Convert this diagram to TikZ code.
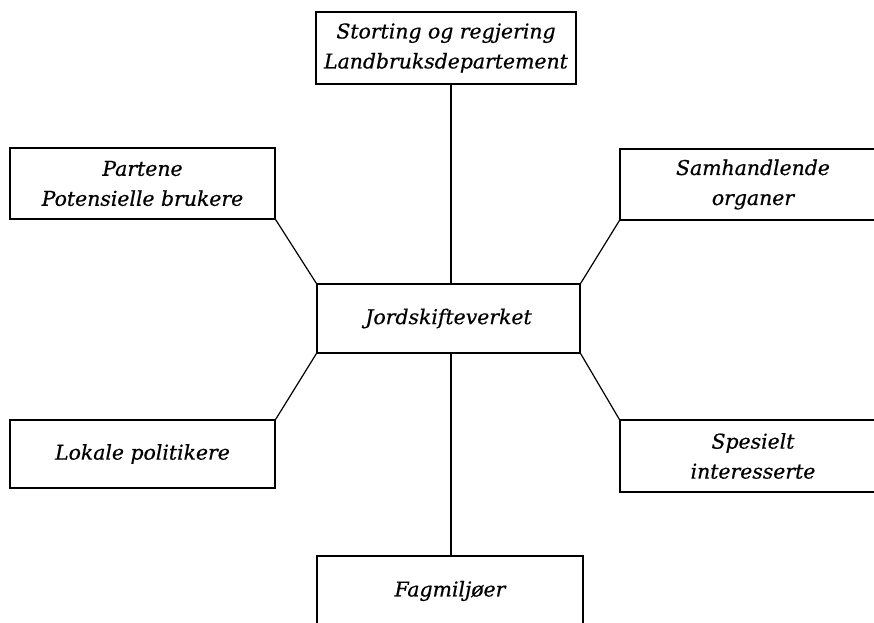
\documentclass[tikz,border=0pt]{standalone}
\usepackage{fontspec}
\setmainfont{DejaVu Serif}
\newfontfamily\labfont{DejaVu Serif}[ItalicFeatures={FakeBold=0.6}]
\begin{document}
\begin{tikzpicture}[x=0.75pt,y=-0.75pt,
  box/.style={draw,line width=1pt,rectangle,inner sep=0pt,align=center,
    font=\labfont\itshape\fontsize{15.3}{22.5}\selectfont},
  link/.style={line width=0.9pt}]
\useasboundingbox (0,0) rectangle (874,622);
\clip (0,0) rectangle (874,622);
\node[box,minimum width=260*0.75pt,minimum height=72*0.75pt] (top) at (446,48) {Storting og regjering\\Landbruksdepartement};
\node[box,minimum width=265*0.75pt,minimum height=71*0.75pt] (part) at (142.5,183.5) {Partene\\Potensielle brukere};
\node[box,minimum width=266*0.75pt,minimum height=71*0.75pt] (sam) at (753,184.5) {Samhandlende\\organer};
\node[box,minimum width=263*0.75pt,minimum height=69*0.75pt] (jord) at (448.5,318.5) {Jordskifteverket};
\node[box,minimum width=265*0.75pt,minimum height=68*0.75pt] (lok) at (142.5,454) {Lokale politikere};
\node[box,minimum width=266*0.75pt,minimum height=72*0.75pt] (spes) at (753,456) {Spesielt\\interesserte};
\node[box,minimum width=266*0.75pt,minimum height=70*0.75pt] (fag) at (450,591) {Fagmiljøer};
\coordinate (ct) at (451,84);
\coordinate (cj) at (451,284);
\coordinate (cb) at (451,353);
\coordinate (cf) at (451,556);
\draw[link] (ct) -- (cj);
\draw[link] (cb) -- (cf);
\draw[link] (part.south east) -- (jord.north west);
\draw[link] (sam.south west) -- (jord.north east);
\draw[link] (lok.north east) -- (jord.south west);
\draw[link] (spes.north west) -- (jord.south east);
\end{tikzpicture}
\end{document}
